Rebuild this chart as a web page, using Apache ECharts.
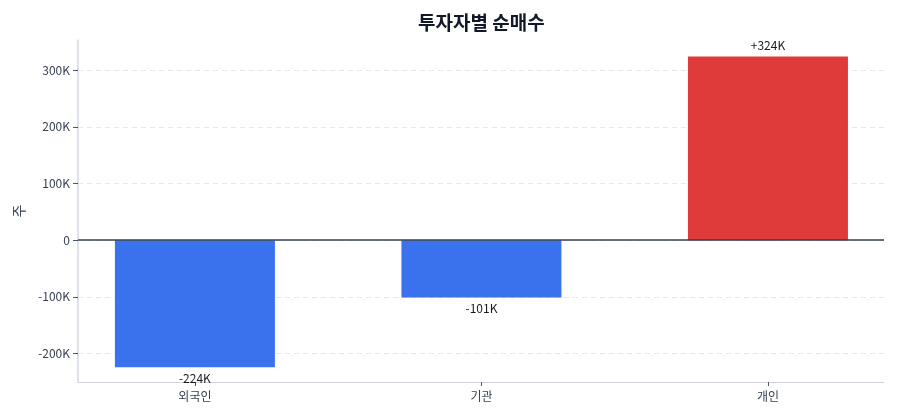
<!DOCTYPE html>
<html>
<head>
<meta charset="utf-8">
<script src="https://cdn.jsdelivr.net/npm/echarts@6/dist/echarts.min.js"></script>
<style>html,body{margin:0;padding:0;background:#fff}#c{width:900px;height:420px}</style>
</head>
<body>
<div id="c"></div>
<script>
const categories = ['외국인', '기관', '개인'];
const netBuy = [-224000, -101000, 324000];
const yTicks = [-200000, -100000, 0, 100000, 200000, 300000];
const yMin = -250000;
const yMax = 353000;

const chart = echarts.init(document.getElementById('c'));
const FONT = '"Noto Sans CJK KR", "Noto Sans", sans-serif';
function fmtK(v) { return v === 0 ? '0' : Math.round(v / 1000) + 'K'; }

chart.setOption({
  animation: false,
  backgroundColor: '#ffffff',
  textStyle: { fontFamily: FONT },
  title: {
    text: '투자자별 순매수',
    left: 413, top: 8,
    textStyle: { fontFamily: FONT, fontSize: 19, fontWeight: 'bold', color: '#111827' }
  },
  grid: { left: 78, right: 16, top: 40, bottom: 38, containLabel: false },
  xAxis: {
    type: 'value',
    min: -0.408, max: 2.405,
    axisLine: { show: true, onZero: false, lineStyle: { color: '#cfd4de', width: 1.2 } },
    axisTick: { show: true, customValues: [0, 1, 2], length: 4, lineStyle: { color: '#4b5563' } },
    axisLabel: { customValues: [0, 1, 2], formatter: v => categories[Math.round(v)] || '', color: '#374151', fontSize: 12, margin: 8, fontFamily: FONT },
    splitLine: { show: false }
  },
  yAxis: {
    type: 'value',
    min: yMin, max: yMax,
    name: '주',
    nameLocation: 'middle',
    nameGap: 52,
    nameTextStyle: { color: '#374151', fontSize: 14, fontFamily: FONT },
    axisLine: { show: true, onZero: false, lineStyle: { color: '#d5d9e0', width: 1.5 } },
    axisTick: { show: true, customValues: yTicks, length: 5, lineStyle: { color: '#4b5563' } },
    axisLabel: { customValues: yTicks, formatter: fmtK, color: '#374151', fontSize: 12, margin: 8, fontFamily: FONT },
    splitLine: { show: true, lineStyle: { color: '#e5e7eb', type: [5, 4], width: 1 } }
  },
  series: [{
    type: 'bar',
    barWidth: 160,
    clip: false,
    data: categories.map((c, i) => ({
      value: [i, netBuy[i]],
      itemStyle: { color: netBuy[i] >= 0 ? '#dc2626' : '#2563eb', opacity: 0.9 },
      label: { position: netBuy[i] >= 0 ? 'top' : 'bottom' }
    })),
    label: {
      show: true,
      distance: 5,
      color: '#000000',
      fontSize: 12,
      fontFamily: FONT,
      formatter: p => (p.value[1] > 0 ? '+' : '') + Math.round(p.value[1] / 1000) + 'K'
    },
    markLine: {
      silent: true,
      symbol: 'none',
      label: { show: false },
      lineStyle: { color: '#334155', width: 1.5, type: 'solid' },
      data: [{ yAxis: 0 }]
    }
  }]
});
</script>
</body>
</html>
